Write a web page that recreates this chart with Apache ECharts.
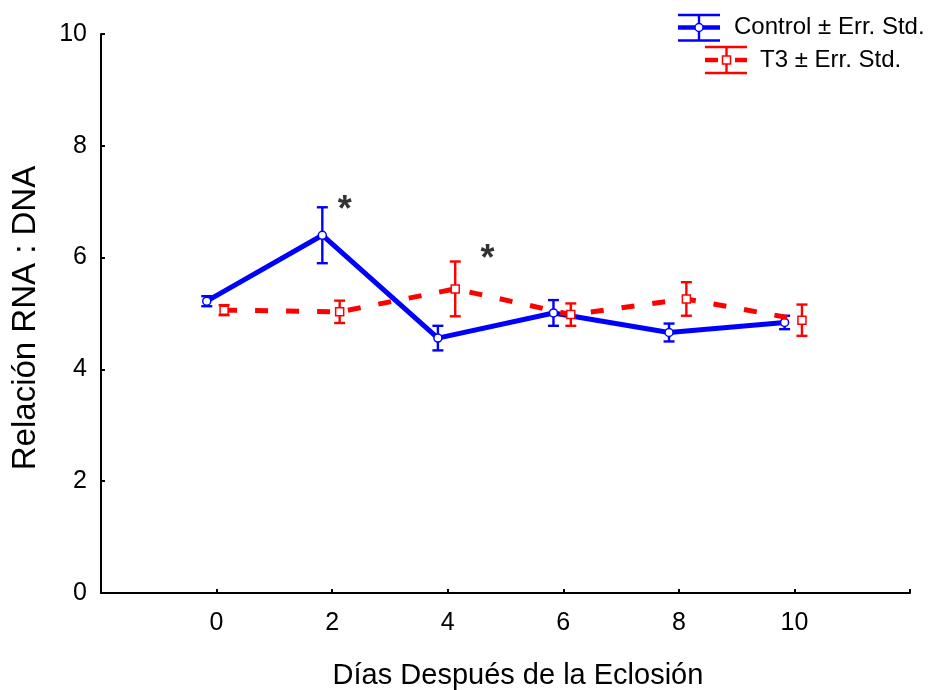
<!DOCTYPE html>
<html>
<head>
<meta charset="utf-8">
<script src="https://cdn.jsdelivr.net/npm/echarts@6/dist/echarts.min.js"></script>
<style>
  html, body { margin: 0; padding: 0; background: #fff; }
  #chart { width: 933px; height: 690px; }
</style>
</head>
<body>
<div id="chart"></div>
<script>
// Days after hatching
const days = [0, 2, 4, 6, 8, 10];
// RNA:DNA ratio, control group (mean and standard error)
const controlMean = [5.22, 6.40, 4.56, 5.01, 4.66, 4.84];
const controlErr  = [0.09, 0.50, 0.22, 0.23, 0.16, 0.12];
// RNA:DNA ratio, T3 group (mean and standard error)
const t3Mean = [5.06, 5.03, 5.44, 4.98, 5.26, 4.88];
const t3Err  = [0.09, 0.20, 0.49, 0.20, 0.30, 0.28];
// Significance markers [day, ratio]
const sigMarks = [[2.22, 6.98], [4.69, 6.10]];
// Axis tick labels
const xTicks = [0, 2, 4, 6, 8, 10];
const yTicks = [0, 2, 4, 6, 8, 10];

// horizontal dodge so the two groups do not overlap
const controlShift = -0.17;
const t3Shift = 0.13;

const FONT = '"Liberation Sans", Arial, sans-serif';
const BLUE = '#0000ff';
const RED = '#ff0000';

const controlPts = days.map((d, i) => [d + controlShift, controlMean[i]]);
const t3Pts = days.map((d, i) => [d + t3Shift, t3Mean[i]]);
const controlBars = days.map((d, i) => [d + controlShift, controlMean[i] - controlErr[i], controlMean[i] + controlErr[i]]);
const t3Bars = days.map((d, i) => [d + t3Shift, t3Mean[i] - t3Err[i], t3Mean[i] + t3Err[i]]);

function errorBarRenderer(color) {
  return function (params, api) {
    const x = api.value(0);
    const lo = api.coord([x, api.value(1)]);
    const hi = api.coord([x, api.value(2)]);
    const hw = 5.5;
    const style = { stroke: color, lineWidth: 2.4 };
    return {
      type: 'group',
      children: [
        { type: 'line', shape: { x1: lo[0], y1: lo[1], x2: hi[0], y2: hi[1] }, style },
        { type: 'line', shape: { x1: hi[0] - hw, y1: hi[1], x2: hi[0] + hw, y2: hi[1] }, style },
        { type: 'line', shape: { x1: lo[0] - hw, y1: lo[1], x2: lo[0] + hw, y2: lo[1] }, style }
      ]
    };
  };
}

const chart = echarts.init(document.getElementById('chart'), null, { renderer: 'canvas' });

const legendGraphic = [
  // Control legend key
  { type: 'line', shape: { x1: 678, y1: 15, x2: 720, y2: 15 }, style: { stroke: BLUE, lineWidth: 2.4 } },
  { type: 'line', shape: { x1: 678, y1: 40.5, x2: 720, y2: 40.5 }, style: { stroke: BLUE, lineWidth: 2.4 } },
  { type: 'line', shape: { x1: 699, y1: 15, x2: 699, y2: 40.5 }, style: { stroke: BLUE, lineWidth: 2.4 } },
  { type: 'line', shape: { x1: 678, y1: 27.5, x2: 720, y2: 27.5 }, style: { stroke: BLUE, lineWidth: 4.5 } },
  { type: 'circle', shape: { cx: 699, cy: 27.5, r: 4 }, style: { fill: '#fff', stroke: BLUE, lineWidth: 1.5 } },
  { type: 'text', x: 734, y: 15, style: { text: 'Control \u00b1 Err. Std.', font: '24px ' + FONT, fill: '#000' } },
  // T3 legend key
  { type: 'line', shape: { x1: 705, y1: 47, x2: 747, y2: 47 }, style: { stroke: RED, lineWidth: 2.4 } },
  { type: 'line', shape: { x1: 705, y1: 73, x2: 747, y2: 73 }, style: { stroke: RED, lineWidth: 2.4 } },
  { type: 'line', shape: { x1: 726.5, y1: 47, x2: 726.5, y2: 73 }, style: { stroke: RED, lineWidth: 2.4 } },
  { type: 'line', shape: { x1: 705, y1: 60, x2: 718, y2: 60 }, style: { stroke: RED, lineWidth: 4.5 } },
  { type: 'line', shape: { x1: 735, y1: 60, x2: 747, y2: 60 }, style: { stroke: RED, lineWidth: 4.5 } },
  { type: 'rect', shape: { x: 722.5, y: 56, width: 8, height: 8 }, style: { fill: '#fff', stroke: RED, lineWidth: 1.5 } },
  { type: 'text', x: 760, y: 48, style: { text: 'T3 \u00b1 Err. Std.', font: '24px ' + FONT, fill: '#000' } },
  // axis titles
  { type: 'text', x: 518, y: 661, style: { text: 'D\u00edas Despu\u00e9s de la Eclosi\u00f3n', font: '29px ' + FONT, fill: '#000', align: 'center', verticalAlign: 'top' } },
  { type: 'text', x: 9, y: 318, rotation: Math.PI / 2, style: { text: 'Relaci\u00f3n RNA : DNA', font: '33px ' + FONT, fill: '#000', align: 'center', verticalAlign: 'top' } }
];

chart.setOption({
  animation: false,
  backgroundColor: '#fff',
  grid: { left: 101, right: 23, top: 34, bottom: 97, containLabel: false },
  xAxis: {
    type: 'value', min: -2, max: 12, interval: 2,
    axisLine: { onZero: false, lineStyle: { color: '#000', width: 2 } },
    axisTick: { inside: true, length: 4, lineStyle: { color: '#000', width: 2 } },
    splitLine: { show: false },
    axisLabel: {
      margin: 18, color: '#000', fontSize: 25, fontFamily: FONT,
      formatter: v => xTicks.includes(v) ? String(v) : ''
    }
  },
  yAxis: {
    type: 'value', min: 0, max: 10, interval: 2,
    axisLine: { show: true, onZero: false, lineStyle: { color: '#000', width: 2 } },
    axisTick: { show: true, inside: true, length: 4, lineStyle: { color: '#000', width: 2 } },
    splitLine: { show: false },
    axisLabel: {
      margin: 14, color: '#000', fontSize: 25, fontFamily: FONT,
      formatter: v => yTicks.includes(v) ? String(v) : ''
    }
  },
  graphic: legendGraphic,
  series: [
    {
      name: 'Control err', type: 'custom', data: controlBars, z: 2,
      renderItem: errorBarRenderer(BLUE), encode: { x: 0, y: [1, 2] }
    },
    {
      name: 'Control', type: 'line', data: controlPts, z: 3,
      lineStyle: { color: BLUE, width: 5 },
      itemStyle: { color: '#fff', borderColor: BLUE, borderWidth: 1.5 },
      symbol: 'circle', symbolSize: 8, showAllSymbol: true
    },
    {
      name: 'T3 err', type: 'custom', data: t3Bars, z: 4,
      renderItem: errorBarRenderer(RED), encode: { x: 0, y: [1, 2] }
    },
    {
      name: 'T3', type: 'line', data: t3Pts, z: 5,
      lineStyle: { color: RED, width: 5, type: [13, 18] },
      itemStyle: { color: '#fff', borderColor: RED, borderWidth: 1.5 },
      symbol: 'rect', symbolSize: 8, showAllSymbol: true
    },
    {
      name: 'sig', type: 'scatter', data: sigMarks, z: 6,
      symbolSize: 1, itemStyle: { color: 'rgba(0,0,0,0)' },
      label: {
        show: true, position: 'inside', formatter: '*',
        fontSize: 36, fontWeight: 'bold', fontFamily: FONT, color: '#000', offset: [0, 8]
      }
    }
  ]
});
</script>
</body>
</html>
